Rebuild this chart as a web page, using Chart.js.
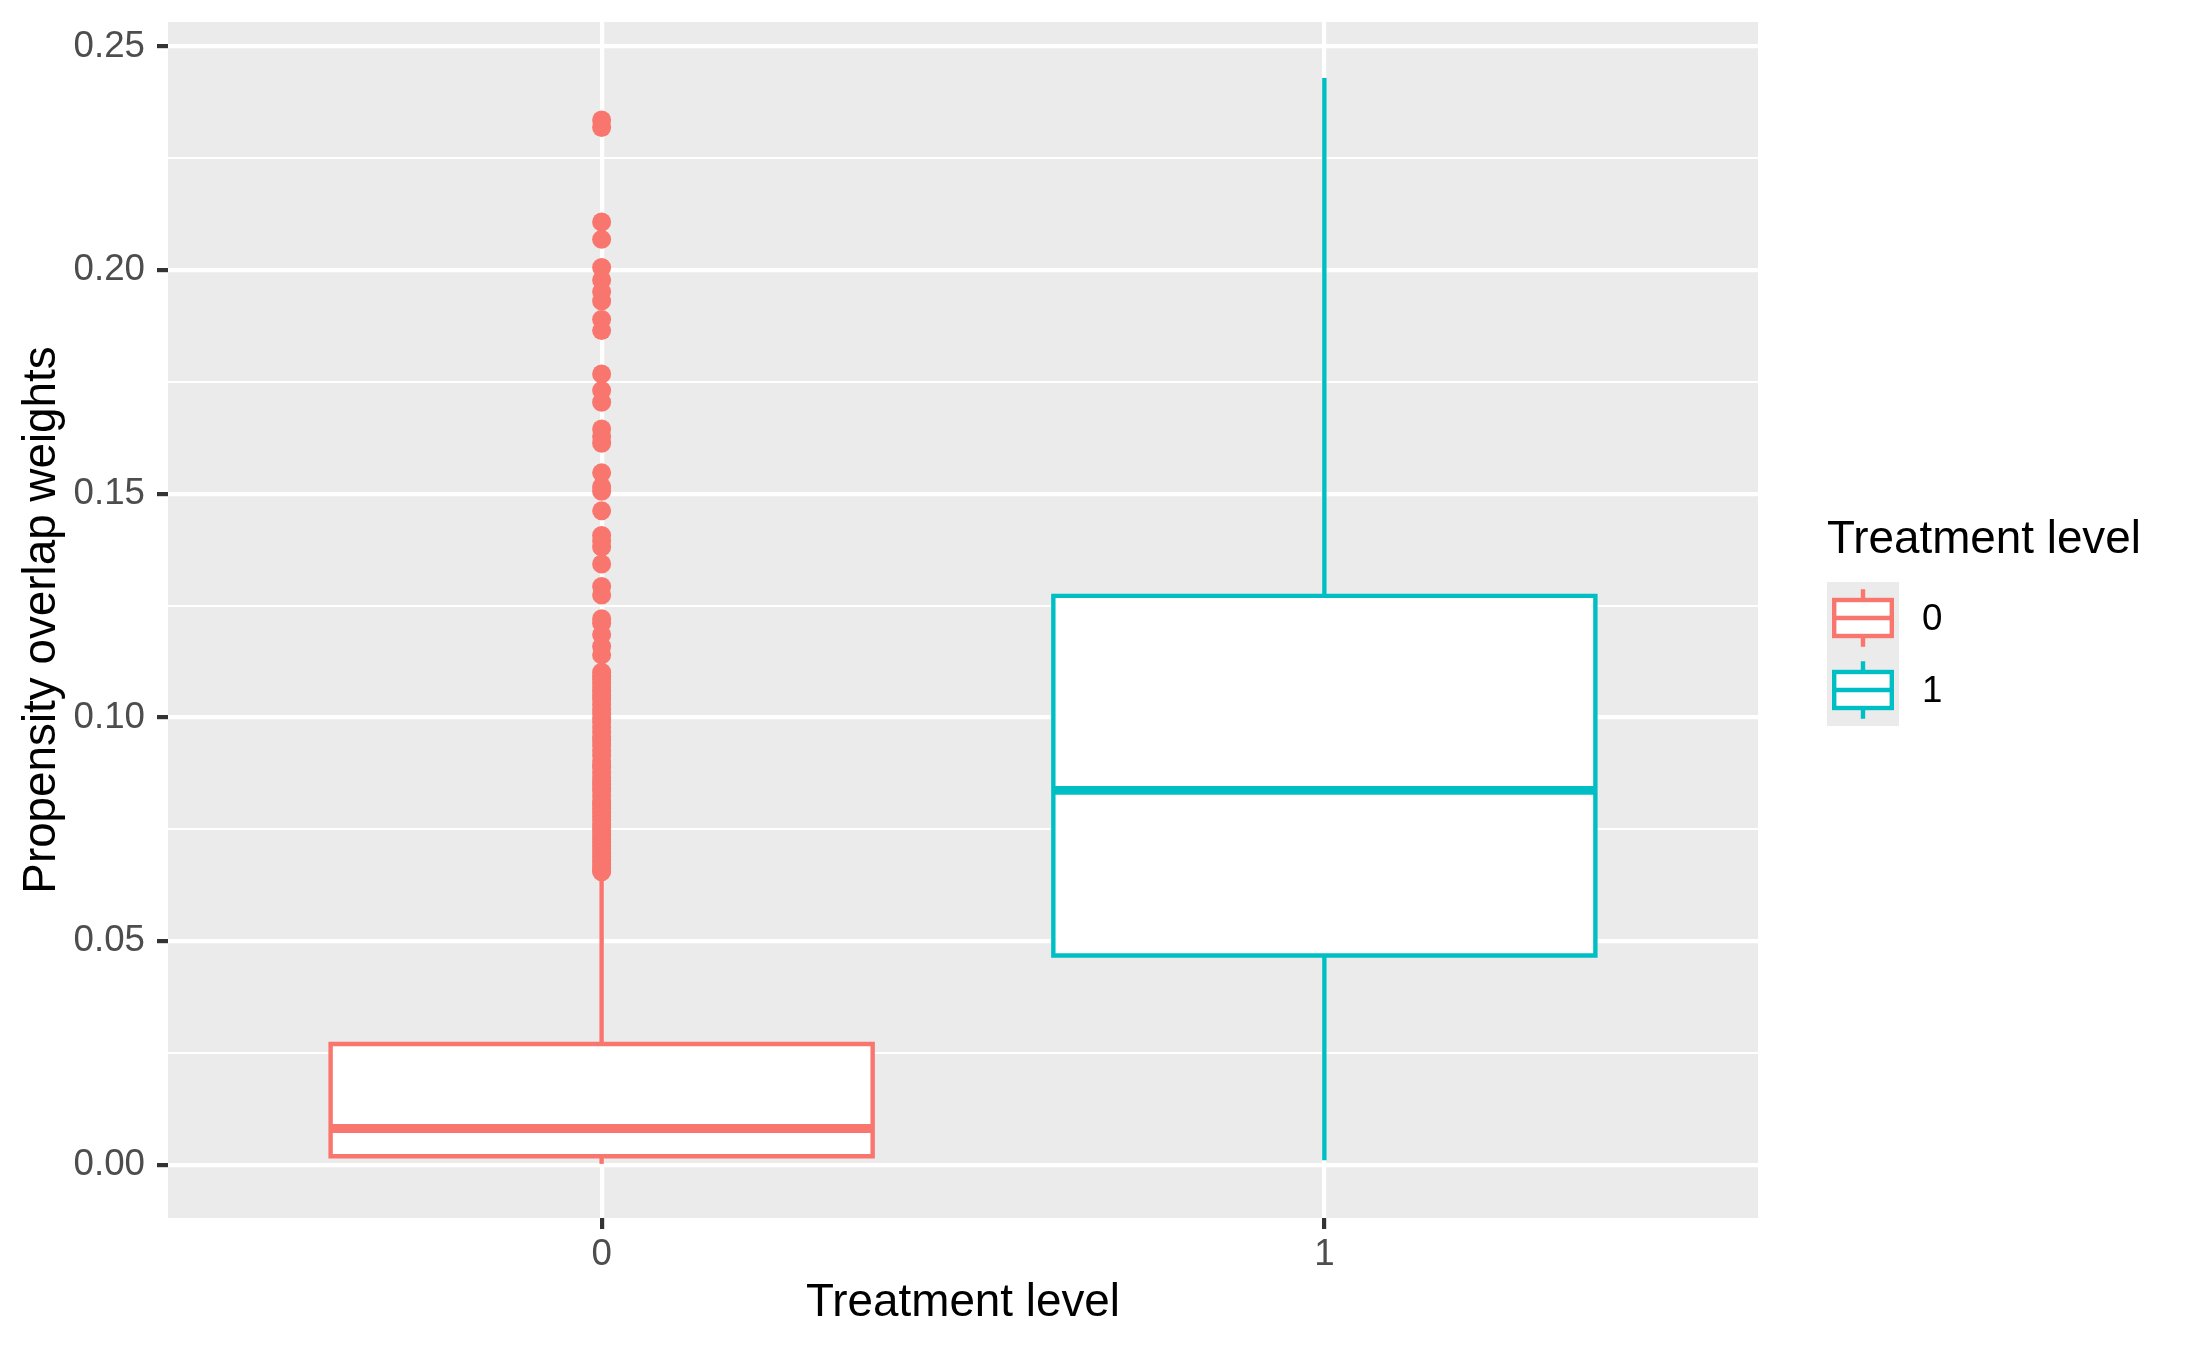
<!DOCTYPE html>
<html>
<head>
<meta charset="utf-8">
<script src="https://cdn.jsdelivr.net/npm/chart.js@4/dist/chart.umd.min.js"></script>
<style>
html, body { margin: 0; padding: 0; background: #ffffff; }
canvas { display: block; }
</style>
</head>
<body>
<canvas id="c" width="2187" height="1351" style="width:2187px;height:1351px"></canvas>
<script>
// ---------- data ----------
const categories = ['0', '1'];
const categoryX = [0, 1];
const colors = ['#F8766D', '#00BFC4'];
const whiskerLow = [0.0002, 0.0010];
const q1 = [0.0019, 0.0468];
const median = [0.0081, 0.0837];
const q3 = [0.0270, 0.1272];
const whiskerHigh = [0.0652, 0.2430];
const outliers0 = [
  0.2336, 0.2319, 0.2108, 0.2069, 0.2006, 0.1978, 0.1952, 0.1931, 0.1890, 0.1865,
  0.1768, 0.1731, 0.1705, 0.1645, 0.1628, 0.1613, 0.1547, 0.1516, 0.1506, 0.1462,
  0.1407, 0.1395, 0.1381, 0.1343, 0.1293, 0.1274, 0.1221, 0.1211, 0.1185, 0.1159,
  0.1140, 0.1101, 0.1092, 0.1085, 0.1077, 0.1068, 0.1059, 0.1050, 0.1041, 0.1029,
  0.1018, 0.1009, 0.0998, 0.0990, 0.0979, 0.0968, 0.0957, 0.0949, 0.0938, 0.0926,
  0.0915, 0.0903, 0.0894, 0.0889, 0.0877, 0.0866, 0.0858, 0.0851, 0.0842, 0.0836,
  0.0825, 0.0813, 0.0806, 0.0797, 0.0788, 0.0779, 0.0771, 0.0762, 0.0754, 0.0746,
  0.0737, 0.0729, 0.0721, 0.0713, 0.0705, 0.0697, 0.0689, 0.0681, 0.0672, 0.0664,
  0.0658, 0.0655
];
const outliers1 = [];
const outliers = [outliers0, outliers1];
const yMajorTicks = [0.00, 0.05, 0.10, 0.15, 0.20, 0.25];
const yMinorTicks = [0.025, 0.075, 0.125, 0.175, 0.225];
const yLimits = [-0.0119, 0.2555];
const xLimits = [-0.6, 1.6];
const boxHalfWidth = 0.375;
const xTitle = 'Treatment level';
const yTitle = 'Propensity overlap weights';
const legendTitle = 'Treatment level';

// ---------- styles ----------
const FONT = "'Liberation Sans', Arial, Helvetica, sans-serif";
const LW = 4.4;
const MEDIAN_LW = 8.9;
const MAJOR_GRID = 4.2;
const MINOR_GRID = 2.1;

const isMajor = v => yMajorTicks.some(m => Math.abs(m - v) < 1e-9);

const datasets = [];
categoryX.forEach((cx, i) => {
  const col = colors[i];
  // white fill of the box
  datasets.push({
    type: 'line', order: 50 + i,
    data: [{x: cx - boxHalfWidth, y: q3[i]}, {x: cx + boxHalfWidth, y: q3[i]}],
    borderWidth: 0, borderColor: 'rgba(0,0,0,0)', pointRadius: 0,
    fill: {value: q1[i]}, backgroundColor: '#FFFFFF'
  });
  // whiskers
  datasets.push({
    type: 'line', order: 40 + i,
    data: [{x: cx, y: whiskerLow[i]}, {x: cx, y: q1[i]}],
    borderColor: col, borderWidth: LW, pointRadius: 0, fill: false
  });
  datasets.push({
    type: 'line', order: 40 + i,
    data: [{x: cx, y: q3[i]}, {x: cx, y: whiskerHigh[i]}],
    borderColor: col, borderWidth: LW, pointRadius: 0, fill: false
  });
  // box outline
  datasets.push({
    type: 'line', order: 30 + i,
    data: [
      {x: cx - boxHalfWidth, y: q1[i]}, {x: cx + boxHalfWidth, y: q1[i]},
      {x: cx + boxHalfWidth, y: q3[i]}, {x: cx - boxHalfWidth, y: q3[i]},
      {x: cx - boxHalfWidth, y: q1[i]}
    ],
    borderColor: col, borderWidth: LW, pointRadius: 0, fill: false,
    borderJoinStyle: 'miter', borderCapStyle: 'square'
  });
  // median
  datasets.push({
    type: 'line', order: 20 + i,
    data: [{x: cx - boxHalfWidth, y: median[i]}, {x: cx + boxHalfWidth, y: median[i]}],
    borderColor: col, borderWidth: MEDIAN_LW, pointRadius: 0, fill: false
  });
  // outliers
  datasets.push({
    type: 'scatter', order: 10 + i,
    data: outliers[i].map(v => ({x: cx, y: v})),
    pointRadius: 9.5, pointBorderWidth: 0,
    pointBackgroundColor: col, pointBorderColor: col, showLine: false
  });
});

const panelBg = {
  id: 'panelBg',
  beforeDraw(chart) {
    const {ctx, chartArea: a} = chart;
    ctx.save();
    ctx.fillStyle = '#EBEBEB';
    ctx.fillRect(a.left, a.top, a.right - a.left, a.bottom - a.top);
    ctx.restore();
  }
};

const ggLegend = {
  id: 'ggLegend',
  afterDraw(chart) {
    const ctx = chart.ctx;
    const left = chart.chartArea.right + 69;
    const key = 72;
    const top = 582;
    ctx.save();
    ctx.fillStyle = '#000000';
    ctx.font = '45.8px ' + FONT;
    ctx.textBaseline = 'middle';
    ctx.textAlign = 'left';
    ctx.fillText(legendTitle, left, 540);
    categories.forEach((c, i) => {
      const y0 = top + i * key;
      ctx.fillStyle = '#EBEBEB';
      ctx.fillRect(left, y0, key, key);
      ctx.strokeStyle = colors[i];
      ctx.lineWidth = LW;
      ctx.lineJoin = 'miter';
      const bx0 = left + key * 0.1, bx1 = left + key * 0.9;
      const by0 = y0 + key * 0.25, by1 = y0 + key * 0.75;
      const mx = left + key / 2;
      ctx.fillStyle = '#FFFFFF';
      ctx.fillRect(bx0, by0, bx1 - bx0, by1 - by0);
      ctx.strokeRect(bx0, by0, bx1 - bx0, by1 - by0);
      ctx.beginPath();
      ctx.moveTo(mx, y0 + key * 0.1); ctx.lineTo(mx, by0);
      ctx.moveTo(mx, by1); ctx.lineTo(mx, y0 + key * 0.9);
      ctx.moveTo(bx0, y0 + key / 2); ctx.lineTo(bx1, y0 + key / 2);
      ctx.stroke();
      ctx.fillStyle = '#000000';
      ctx.font = '36.7px ' + FONT;
      ctx.fillText(c, left + key + 23, y0 + key / 2 + 2);
    });
    ctx.restore();
  }
};

new Chart(document.getElementById('c'), {
  data: {datasets},
  options: {
    responsive: false,
    animation: false,
    devicePixelRatio: 1,
    events: [],
    layout: {padding: {left: 0, right: 429, top: 22, bottom: 0}},
    plugins: {legend: {display: false}, tooltip: {enabled: false}},
    scales: {
      x: {
        type: 'linear', min: xLimits[0], max: xLimits[1],
        afterBuildTicks: s => { s.ticks = categoryX.map(v => ({value: v})); },
        afterFit: s => { s.height = 133; s.paddingLeft = 0; s.paddingRight = 0; },
        ticks: {
          callback: v => { const k = categoryX.indexOf(v); return k >= 0 ? categories[k] : ''; },
          font: {family: FONT, size: 36.7}, color: '#4D4D4D', padding: 4,
          maxRotation: 0, minRotation: 0, autoSkip: false
        },
        grid: {color: '#FFFFFF', lineWidth: MAJOR_GRID, tickColor: '#333333', tickLength: 11, tickWidth: 4.2},
        border: {display: false},
        title: {display: true, text: xTitle, color: '#000000', font: {family: FONT, size: 45.8}, padding: {top: 0, bottom: 20.5}}
      },
      y: {
        type: 'linear', min: yLimits[0], max: yLimits[1],
        afterBuildTicks: s => {
          s.ticks = yMajorTicks.concat(yMinorTicks).sort((a, b) => a - b).map(v => ({value: v}));
        },
        afterFit: s => { s.width = 168; s.paddingTop = 0; s.paddingBottom = 0; },
        ticks: {
          callback: v => isMajor(v) ? v.toFixed(2) : '',
          font: {family: FONT, size: 36.7}, color: '#4D4D4D', padding: 12, autoSkip: false
        },
        grid: {
          color: '#FFFFFF',
          lineWidth: c => (c.tick && isMajor(c.tick.value)) ? MAJOR_GRID : MINOR_GRID,
          tickColor: c => (c.tick && isMajor(c.tick.value)) ? '#333333' : 'rgba(0,0,0,0)',
          tickWidth: c => (c.tick && isMajor(c.tick.value)) ? 4.2 : 0.001,
          tickLength: 11
        },
        border: {display: false},
        title: {display: true, text: yTitle, color: '#000000', font: {family: FONT, size: 45.8}, padding: {top: 14.5, bottom: 0}}
      }
    }
  },
  plugins: [panelBg, ggLegend]
});
</script>
</body>
</html>
